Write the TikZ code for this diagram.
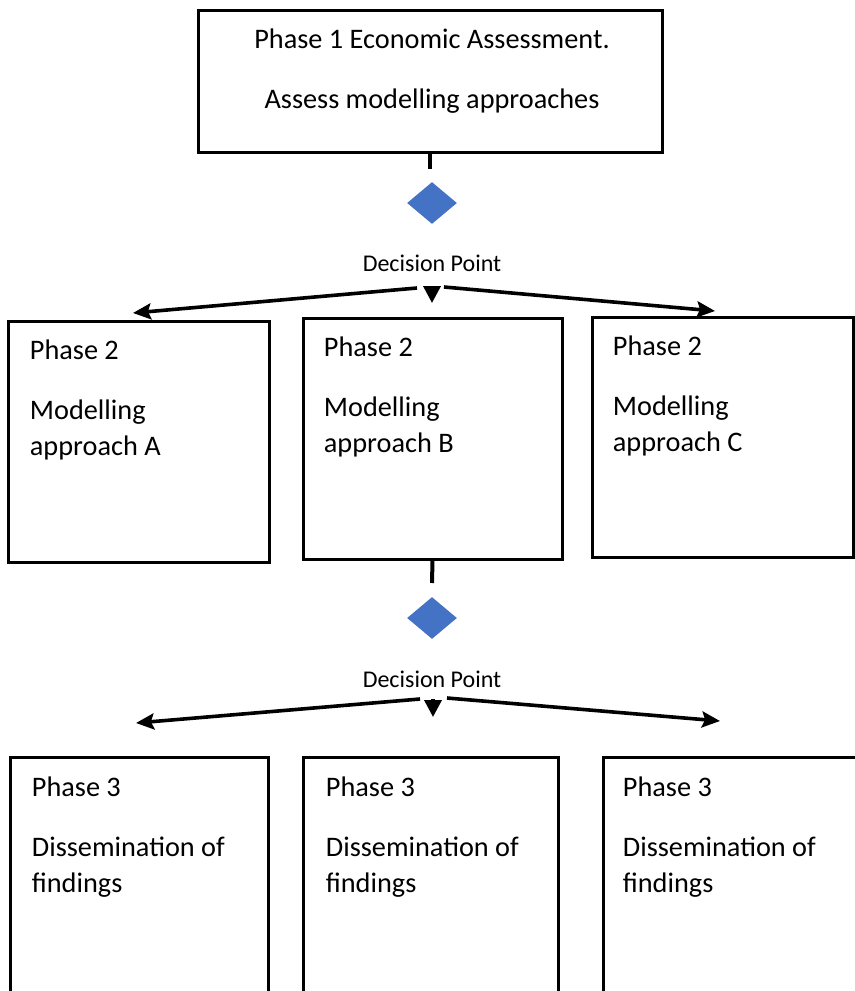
\documentclass[tikz,border=0pt]{standalone}
\usepackage{fontspec}
\setmainfont{Carlito}
\usetikzlibrary{shapes.geometric,arrows.meta,calc}
\definecolor{decblue}{HTML}{4472C4}
\tikzset{
  box/.style={draw, line width=1.5pt, inner sep=0pt},
  boxtext/.style={anchor=north west, inner sep=0pt, align=left,
    font=\fontsize{14.15pt}{18pt}\selectfont},
  decision/.style={diamond, fill=decblue, inner sep=0pt, minimum width=25pt, minimum height=21pt},
  dptext/.style={anchor=base, inner sep=0pt, font=\fontsize{12pt}{14pt}\selectfont},
  tick/.style={line width=2pt},
  branch/.style={line width=1.8pt, -{Stealth[length=9pt,width=8pt,inset=1.5pt]}},
  downtip/.style={line width=1.8pt, -{Triangle[length=8.5pt,width=8.5pt]}}
}
\begin{document}
\begin{tikzpicture}[x=0.5pt, y=-0.5pt]
        \useasboundingbox (0,0) rectangle (855,991);
        \clip (0,0) rectangle (855,991);

        % phase 1
        \node[box, minimum width=232pt, minimum height=71pt] (p1) at (430,81) {};
        \node[boxtext, anchor=north, align=center] (p1-txt) at (432,28) {Phase 1 Economic Assessment.\\[12pt]Assess modelling approaches};
        \coordinate (t1) at (430,169);
        \draw[tick] (p1.south) -- (t1);
        \node[decision] (d1) at (432,203) {};
        \node[dptext] (d1-txt) at (432,271) {Decision Point};

        % phase 2
        \node[box, minimum width=130.5pt, minimum height=120.5pt] (p2a) at (138.5,441.5) {};
        \node[box, minimum width=129.5pt, minimum height=120.5pt] (p2b) at (432.5,438.5) {};
        \node[box, minimum width=130.5pt, minimum height=120pt] (p2c) at (722.5,437) {};
        \node[boxtext] (p2a-txt) at ($(p2a.north west)+(23,20)$) {Phase 2\\[12pt]Modelling\\approach A};
        \node[boxtext] (p2b-txt) at ($(p2b.north west)+(22,20)$) {Phase 2\\[12pt]Modelling\\approach B};
        \node[boxtext] (p2c-txt) at ($(p2c.north west)+(22,20)$) {Phase 2\\[12pt]Modelling\\approach C};

        \coordinate (s1l) at (417,288);
        \coordinate (s1c) at (432,286);
        \coordinate (s1r) at (444,287);
        \coordinate (e1l) at (133,313);
        \coordinate (e1c) at (432,303);
        \coordinate (e1r) at (715,311);
        \draw[branch] (s1l) -- (e1l);
        \draw[downtip] (s1c) -- (e1c);
        \draw[branch] (s1r) -- (e1r);

        \coordinate (t2) at (432,583);
        \draw[tick] (p2b.south) -- (t2);
        \node[decision] (d2) at (432,618) {};
        \node[dptext] (d2-txt) at (432,687) {Decision Point};

        % phase 3
        \node[box, minimum width=129pt, minimum height=126.5pt] (p3a) at (139,883.5) {};
        \node[box, minimum width=127.5pt, minimum height=126.5pt] (p3b) at (430.5,883.5) {};
        \node[box, minimum width=129.5pt, minimum height=126.5pt] (p3c) at (732.5,883.5) {};
        \node[boxtext] (p3a-txt) at ($(p3a.north west)+(23,21)$) {Phase 3\\[12pt]Dissemination of\\findings};
        \node[boxtext] (p3b-txt) at ($(p3b.north west)+(24,21)$) {Phase 3\\[12pt]Dissemination of\\findings};
        \node[boxtext] (p3c-txt) at ($(p3c.north west)+(21,21)$) {Phase 3\\[12pt]Dissemination of\\findings};

        \coordinate (s2l) at (420,699);
        \coordinate (s2c) at (433,699);
        \coordinate (s2r) at (447,698);
        \coordinate (e2l) at (136,723);
        \coordinate (e2c) at (433,717);
        \coordinate (e2r) at (720,721);
        \draw[branch] (s2l) -- (e2l);
        \draw[downtip] (s2c) -- (e2c);
        \draw[branch] (s2r) -- (e2r);
\end{tikzpicture}
\end{document}
